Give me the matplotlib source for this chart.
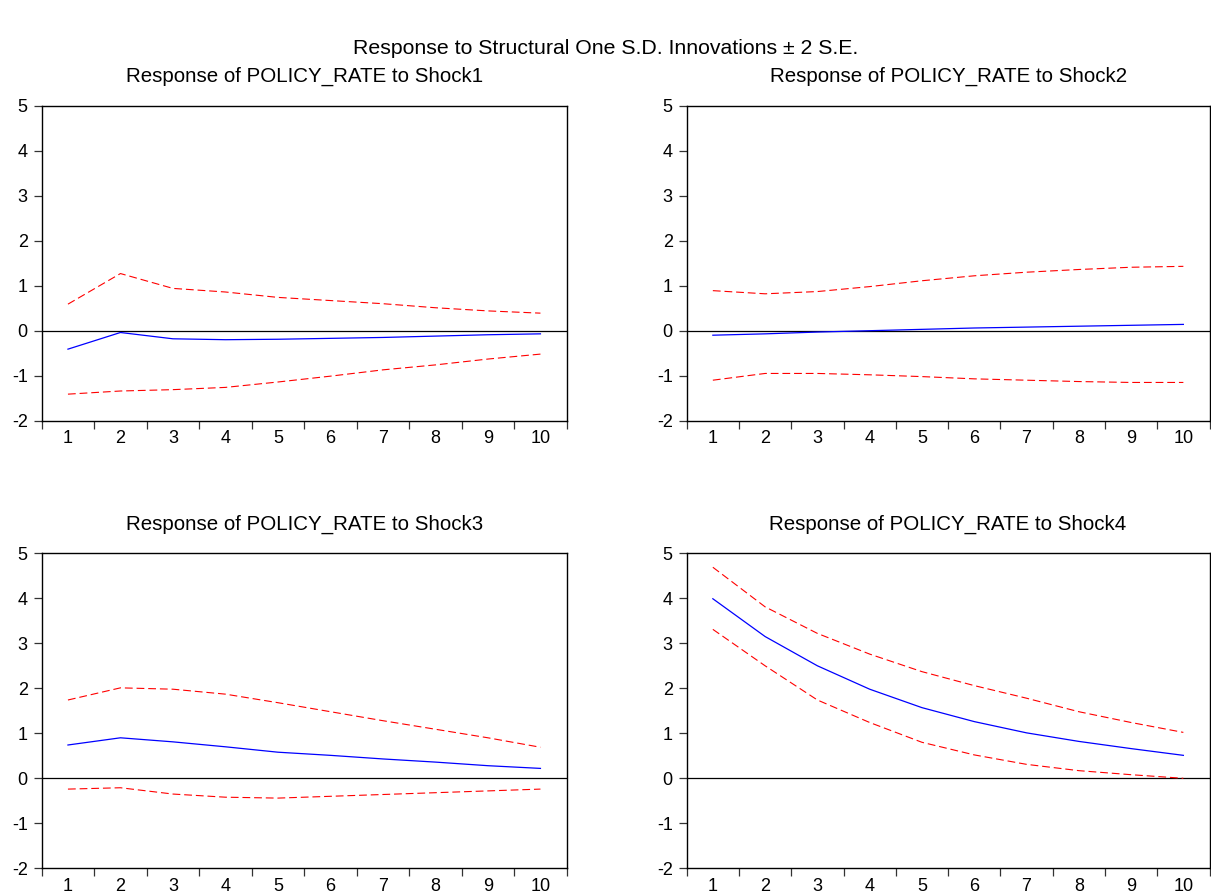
import matplotlib
matplotlib.use("Agg")
import matplotlib.pyplot as plt
import numpy as np

plt.rcParams['font.family'] = ['Liberation Sans', 'DejaVu Sans']
plt.rcParams['axes.unicode_minus'] = False

periods = [1, 2, 3, 4, 5, 6, 7, 8, 9, 10]

titles = ["Response of POLICY_RATE to Shock1",
          "Response of POLICY_RATE to Shock2",
          "Response of POLICY_RATE to Shock3",
          "Response of POLICY_RATE to Shock4"]

shock1_resp = [-0.41, -0.04, -0.18, -0.20, -0.19, -0.17, -0.15, -0.12, -0.09, -0.07]
shock1_upper = [0.59, 1.27, 0.94, 0.86, 0.74, 0.67, 0.60, 0.51, 0.44, 0.39]
shock1_lower = [-1.41, -1.34, -1.31, -1.26, -1.14, -1.01, -0.87, -0.76, -0.63, -0.52]

shock2_resp = [-0.10, -0.07, -0.03, 0.00, 0.03, 0.06, 0.08, 0.10, 0.12, 0.14]
shock2_upper = [0.89, 0.82, 0.87, 0.98, 1.11, 1.22, 1.30, 1.36, 1.41, 1.43]
shock2_lower = [-1.10, -0.95, -0.95, -0.98, -1.02, -1.07, -1.10, -1.13, -1.15, -1.15]

shock3_resp = [0.74, 0.90, 0.81, 0.70, 0.58, 0.51, 0.43, 0.36, 0.28, 0.22]
shock3_upper = [1.74, 2.01, 1.98, 1.87, 1.68, 1.48, 1.28, 1.09, 0.90, 0.69]
shock3_lower = [-0.24, -0.21, -0.35, -0.42, -0.44, -0.40, -0.36, -0.32, -0.28, -0.24]

shock4_resp = [3.99, 3.15, 2.50, 1.98, 1.57, 1.26, 1.01, 0.82, 0.66, 0.51]
shock4_upper = [4.69, 3.81, 3.22, 2.76, 2.37, 2.06, 1.78, 1.48, 1.24, 1.02]
shock4_lower = [3.31, 2.50, 1.74, 1.24, 0.80, 0.52, 0.31, 0.17, 0.08, 0.00]

responses = [shock1_resp, shock2_resp, shock3_resp, shock4_resp]
uppers = [shock1_upper, shock2_upper, shock3_upper, shock4_upper]
lowers = [shock1_lower, shock2_lower, shock3_lower, shock4_lower]

W, H = 1211, 894
fig = plt.figure(figsize=(W / 100, H / 100), dpi=100)

# axes boxes in pixels: left, top, right, bottom
boxes = [(41.7, 105.7, 566.7, 420.7),
         (686.7, 105.7, 1209.5, 420.7),
         (41.7, 553.3, 566.7, 868.3),
         (686.7, 553.3, 1209.5, 868.3)]

for i, (l, t, r, b) in enumerate(boxes):
    ax = fig.add_axes([l / W, 1 - b / H, (r - l) / W, (b - t) / H])
    ax.axhline(0, color='black', lw=0.9, zorder=1)
    ax.plot(periods, uppers[i], color='#ff0000', lw=0.8, ls=(0, (7, 3.5)), zorder=2)
    ax.plot(periods, lowers[i], color='#ff0000', lw=0.8, ls=(0, (7, 3.5)), zorder=2)
    ax.plot(periods, responses[i], color='#0000ff', lw=0.9, zorder=3)
    ax.set_xlim(0.5, 10.5)
    ax.set_ylim(-2, 5)
    ax.set_yticks(range(-2, 6))
    ax.set_xticks(periods)
    ax.set_xticks(np.arange(0.5, 11, 1.0), minor=True)
    ax.tick_params(axis='x', which='major', length=0, labelsize=13, pad=7)
    ax.tick_params(axis='x', which='minor', length=6, width=0.9, color='#333333')
    ax.tick_params(axis='y', which='major', length=6, width=0.9, labelsize=13,
                   color='#333333', pad=4)
    for s in ax.spines.values():
        s.set_linewidth(1.0)
        s.set_color('black')
    ax.set_title(titles[i], fontsize=14.8, pad=17)

fig.suptitle("Response to Structural One S.D. Innovations \u00b1 2 S.E.",
             fontsize=15.3, y=1 - 48 / H, va='center')

fig.savefig("out.png", dpi=100)
